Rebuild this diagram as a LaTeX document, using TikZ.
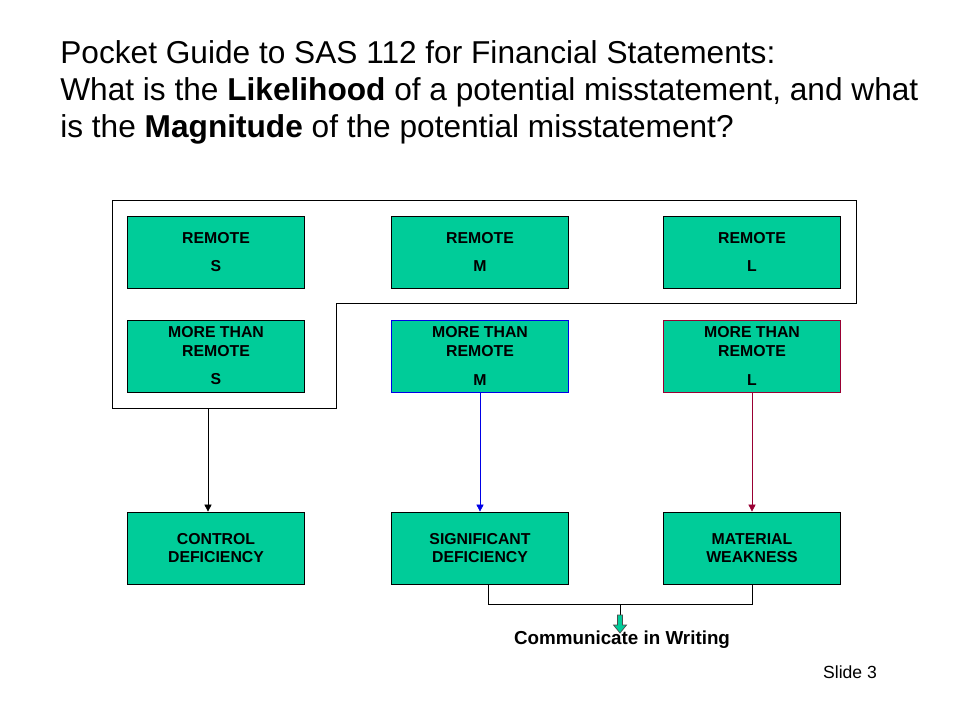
\documentclass[tikz,border=0pt]{standalone}
\usepackage{fontspec}
\setmainfont{Liberation Sans}
\usetikzlibrary{shapes,arrows,arrows.meta}
\definecolor{boxgreen}{RGB}{0,204,153}
\definecolor{mblue}{RGB}{0,0,230}
\definecolor{lred}{RGB}{153,0,51}

\begin{document}
\begin{tikzpicture}[x=0.2mm,y=-0.2mm,
        level/.style={draw,fill=boxgreen,minimum width=35.4mm,minimum height=14.4mm,inner sep=1pt,
                align=center,font=\fontsize{9}{10.4}\selectfont\bfseries},
        tip/.style={-{Triangle[length=4pt,width=4pt]}}]
        \useasboundingbox (0,0) rectangle (960,720);
        \node[anchor=north west,inner sep=0,align=left,font=\fontsize{18}{21}\selectfont] at (60,40) (title)
        {Pocket Guide to SAS 112 for Financial Statements:\\
        What is the \textbf{Likelihood} of a potential misstatement, and what\\
        is the \textbf{Magnitude} of the potential misstatement?};
        \node[level] at (216,252) (remS) {REMOTE\\[6pt]S};
        \node[level] at (480,252) (remM) {REMOTE\\[6pt]M};
        \node[level] at (752,252) (remL) {REMOTE\\[6pt]L};
        \node[level] at (216,356) (mtrS) {MORE THAN\\REMOTE\\[6pt]S};
        \node[level,draw=mblue] at (480,356) (mtrM) {MORE THAN\\REMOTE\\[6pt]M};
        \node[level,draw=lred] at (752,356) (mtrL) {MORE THAN\\REMOTE\\[6pt]L};
        \node[level] at (216,548) (ctrl) {CONTROL\\DEFICIENCY};
        \node[level] at (480,548) (sig) {SIGNIFICANT\\DEFICIENCY};
        \node[level] at (752,548) (mat) {MATERIAL\\WEAKNESS};
        % group of S/M/L levels that stay a control deficiency
        \draw (112,200) -- (856,200) -- (856,303) -- (336,303) -- (336,408) -- (112,408) -- cycle;
        \coordinate (grp) at (208,408);
        \draw[tip] (grp) -- (grp |- ctrl.north);
        \draw[tip,mblue] (mtrM.south) -- (sig.north);
        \draw[tip,lred] (mtrL.south) -- (mat.north);
        \draw ([xshift=1.6mm]sig.south) -- ++(0,20) coordinate (brk) -- (brk -| mat.south) -- (mat.south);
        \coordinate (brM) at (620,604);
        \draw (brM) -- ++(0,11);
        \draw[fill=boxgreen,draw=black!70] (brM) ++(-2.5,11) -- ++(5,0) -- ++(0,10) -- ++(4,0)
                -- ++(-6.5,8) -- ++(-6.5,-8) -- ++(4,0) -- cycle;
        \node[font=\fontsize{10.7}{12}\selectfont\bfseries] at (622,640) (comm) {Communicate in Writing};
        \node[font=\fontsize{10}{12}\selectfont] at (850,672) (slide) {Slide 3};
\end{tikzpicture}
\end{document}
